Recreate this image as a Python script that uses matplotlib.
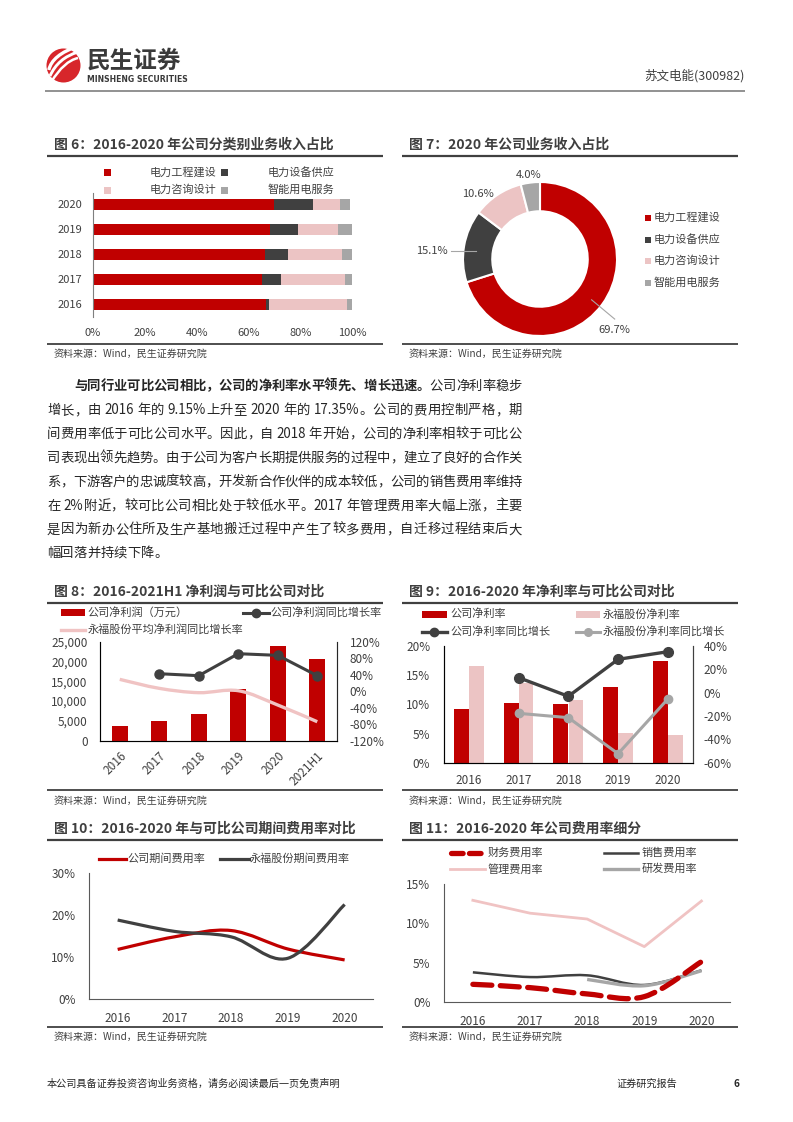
import re

import numpy as np
import matplotlib

matplotlib.use("Agg")
import matplotlib.pyplot as plt
from matplotlib.patches import Rectangle, Circle, PathPatch
from matplotlib.path import Path
from matplotlib.ticker import FuncFormatter

plt.rcParams["font.family"] = ["Noto Sans CJK SC", "DejaVu Sans"]

W, H = 793, 1122

RED = "#C00000"
DARK = "#404040"
PINK = "#ECC4C4"
GRAY = "#A6A6A6"
TXT = "#404040"

# ---- data -------------------------------------------------------------
YEARS = ["2016", "2017", "2018", "2019", "2020"]
SEG_NAMES = ["电力工程建设", "电力设备供应", "电力咨询设计", "智能用电服务"]
SEG_ENGINEERING = [66.8, 65.1, 66.4, 68.5, 69.7]
SEG_EQUIPMENT = [1.3, 7.3, 8.9, 10.7, 15.1]
SEG_CONSULTING = [30.0, 24.8, 20.8, 15.5, 10.6]
SEG_SMART = [2.0, 2.8, 3.9, 5.2, 4.0]

PIE_2020 = [69.7, 15.1, 10.6, 4.0]

PROFIT_CATS = ["2016", "2017", "2018", "2019", "2020", "2021H1"]
NET_PROFIT = [3700, 5000, 6800, 13000, 24000, 20600]
PROFIT_GROWTH = [np.nan, 42.4, 37.6, 90.9, 86.9, 37.6]
PEER_PROFIT_GROWTH = [28.7, 6.9, -3.6, 1.2, -33.5, -74.0]

MARGIN = [9.15, 10.3, 10.0, 12.95, 17.35]
PEER_MARGIN = [16.5, 13.6, 10.7, 5.1, 4.8]
MARGIN_GROWTH = [np.nan, 12.9, -3.1, 28.6, 35.1]
PEER_MARGIN_GROWTH = [np.nan, -17.7, -21.4, -52.3, -5.4]

EXPENSE = [11.8, 14.8, 16.3, 11.9, 9.3]
PEER_EXPENSE = [18.8, 16.1, 14.8, 9.7, 22.5]

FIN_RATE = [2.28, 1.86, 1.06, 0.72, 5.15]
SALES_RATE = [3.8, 3.2, 3.42, 2.2, 4.06]
ADMIN_RATE = [12.93, 11.3, 10.56, 7.06, 12.84]
RD_RATE = [np.nan, np.nan, 2.9, 2.1, 4.0]

PARAGRAPH = [
    [("与同行业可比公司相比，公司的净利率水平领先、增长迅速。", "bold"), ("公司净利率稳步", "normal")],
    [("增长，由 2016 年的 9.15%上升至 2020 年的 17.35%。公司的费用控制严格，期", "normal")],
    [("间费用率低于可比公司水平。因此，自 2018 年开始，公司的净利率相较于可比公", "normal")],
    [("司表现出领先趋势。由于公司为客户长期提供服务的过程中，建立了良好的合作关", "normal")],
    [("系，下游客户的忠诚度较高，开发新合作伙伴的成本较低，公司的销售费用率维持", "normal")],
    [("在 2%附近，较可比公司相比处于较低水平。2017 年管理费用率大幅上涨，主要", "normal")],
    [("是因为新办公住所及生产基地搬迁过程中产生了较多费用，自迁移过程结束后大", "normal")],
    [("幅回落并持续下降。", "normal")],
]

SOURCE = "资料来源：Wind，民生证券研究院"


def add_ax(fig, x0, y0, x1, y1):
    ax = fig.add_axes([x0 / W, 1 - y1 / H, (x1 - x0) / W, (y1 - y0) / H])
    ax.set_facecolor("none")
    return ax


def smooth_path(xs, ys):
    pts = [(x, y) for x, y in zip(xs, ys) if not np.isnan(y)]
    verts = [pts[0]]
    codes = [Path.MOVETO]
    n = len(pts)
    for i in range(n - 1):
        p0 = pts[max(i - 1, 0)]
        p1 = pts[i]
        p2 = pts[i + 1]
        p3 = pts[min(i + 2, n - 1)]
        c1 = (p1[0] + (p2[0] - p0[0]) / 6, p1[1] + (p2[1] - p0[1]) / 6)
        c2 = (p2[0] - (p3[0] - p1[0]) / 6, p2[1] - (p3[1] - p1[1]) / 6)
        verts += [c1, c2, p2]
        codes += [Path.CURVE4] * 3
    return Path(verts, codes)


def smooth_line(ax, xs, ys, **kw):
    ax.add_patch(PathPatch(smooth_path(xs, ys), facecolor="none", **kw))


def style_ticks(ax, size=8):
    ax.tick_params(length=0, labelsize=size, labelcolor=TXT)


fig = plt.figure(figsize=(W / 100, H / 100), dpi=100)
page = fig.add_axes([0, 0, 1, 1], zorder=-1)
page.set_xlim(0, W)
page.set_ylim(H, 0)
page.axis("off")


def hline(x0, x1, y, color=DARK, lw=1.4):
    page.plot([x0, x1], [y, y], color=color, lw=lw, solid_capstyle="butt")


def leg_rect(x0, x1, yc, h, color):
    page.add_patch(Rectangle((x0, yc - h / 2), x1 - x0, h, color=color, lw=0))


def leg_line(x0, x1, yc, color, lw, marker=False, ms=6, **kw):
    page.plot([x0, x1], [yc, yc], color=color, lw=lw, **kw)
    if marker:
        page.plot([(x0 + x1) / 2], [yc], "o", color=color, ms=ms)


def ptext(x, y, s, size=8, color=TXT, **kw):
    kw.setdefault("va", "center")
    return page.text(x, y, s, fontsize=size, color=color, **kw)


# ---- header ------------------------------------------------------------
page.add_patch(Circle((63.5, 65.5), 17, color="#D7262B", lw=0))
for k, off in enumerate([-6, 0, 6]):
    p = Path([(50 + off * 0.2, 76 + off), (58 + off, 58 + off * 0.5), (78, 52 + off)],
             [Path.MOVETO, Path.CURVE3, Path.CURVE3])
    page.add_patch(PathPatch(p, facecolor="none", edgecolor="white", lw=2.4 - k * 0.3))
ptext(87, 61, "民生证券", size=17, color="#3A3A3A", weight="bold")
ptext(87, 79, "MINSHENG SECURITIES", size=5.6, color="#3A3A3A", weight="bold", family="DejaVu Sans")
ptext(745, 76, "苏文电能(300982)", size=9, ha="right")
hline(45, 745, 91, color="#7F7F7F", lw=1.2)

# ---- section frames --------------------------------------------------
frames = [
    (47, 383, 145, 156, 344, 354, "图 6：2016-2020 年公司分类别业务收入占比"),
    (402, 738, 145, 156, 344, 354, "图 7：2020 年公司业务收入占比"),
    (47, 383, 592, 603, 790, 801, "图 8：2016-2021H1 净利润与可比公司对比"),
    (402, 738, 592, 603, 790, 801, "图 9：2016-2020 年净利率与可比公司对比"),
    (47, 383, 829, 840, 1027, 1037, "图 10：2016-2020 年与可比公司期间费用率对比"),
    (402, 738, 829, 840, 1027, 1037, "图 11：2016-2020 年公司费用率细分"),
]
for x0, x1, ty, ly, by, sy, title in frames:
    ptext(x0 + 7, ty, title, size=10, color="#3F3F3F", weight="bold")
    hline(x0, x1, ly, lw=1.6)
    hline(x0, x1, by, lw=1.3)
    ptext(x0 + 7, sy, SOURCE, size=7.2)

# ---- paragraph (justified) ------------------------------------------
renderer = fig.canvas.get_renderer()
para_y = [385.7, 410, 433.5, 457.5, 481.5, 505.5, 529.3, 552.7]
PARA_SIZE = 9.6
for li, (segments, y) in enumerate(zip(PARAGRAPH, para_y)):
    x_start = 74 if li == 0 else 47
    x_end = 522
    texts = []
    for s, weight in segments:
        for tok in re.findall(r"[A-Za-z0-9.%]+|\s+|.", s):
            if tok.isspace():
                texts.append((None, 3.0))
                continue
            t = page.text(0, y, tok, fontsize=PARA_SIZE, color="#262626", weight=weight,
                          va="center", ha="left")
            w = t.get_window_extent(renderer=renderer).width
            texts.append((t, w))
    total = sum(w for _, w in texts)
    last = li == len(PARAGRAPH) - 1
    gap = 0 if last else (x_end - x_start - total) / max(len(texts) - 1, 1)
    x = x_start
    for t, w in texts:
        if t is not None:
            t.set_x(x)
        x += w + gap

# ---- figure 6: stacked horizontal bars ------------------------------
ax6 = add_ax(fig, 93, 193, 352, 317)
ypos = np.arange(len(YEARS))
left = np.zeros(len(YEARS))
for vals, color in zip([SEG_ENGINEERING, SEG_EQUIPMENT, SEG_CONSULTING, SEG_SMART],
                       [RED, DARK, PINK, GRAY]):
    ax6.barh(ypos, vals, left=left, height=0.44, color=color, lw=0)
    left += np.array(vals)
ax6.set_xlim(0, 100)
ax6.set_ylim(-0.5, 4.45)
ax6.set_yticks(ypos)
ax6.set_yticklabels(YEARS)
ax6.set_xticks(range(0, 101, 20))
ax6.set_xticklabels([f"{v}%" for v in range(0, 101, 20)])
for side in ["top", "right", "bottom"]:
    ax6.spines[side].set_visible(False)
ax6.spines["left"].set_color("#7F7F7F")
style_ticks(ax6, 8)
ax6.tick_params(axis="x", pad=8)
ax6.tick_params(axis="y", pad=8)

leg6 = [(107, 150, 172.5), (224, 268, 172.5), (107, 150, 190), (224, 268, 190)]
for (mx, tx, yy), name, color in zip(leg6, SEG_NAMES, [RED, DARK, PINK, GRAY]):
    leg_rect(mx - 3.5, mx + 3.5, yy, 7, color)
    ptext(tx, yy, name, size=8)

# ---- figure 7: donut ---------------------------------------------------
ax7 = add_ax(fig, 463, 182, 617, 336)
ax7.pie(PIE_2020, colors=[RED, DARK, PINK, GRAY], startangle=90, counterclock=False,
        radius=1, wedgeprops=dict(width=0.38, edgecolor="white", linewidth=1.5))
ax7.set_xlim(-1, 1)
ax7.set_ylim(-1, 1)
pie_labels = [f"{v:.1f}%" for v in PIE_2020]
label_pos = [(0.97, -0.92), (-1.41, 0.11), (-0.80, 0.84), (-0.15, 1.09)]
for s, (lx, ly) in zip(pie_labels, label_pos):
    ax7.text(lx, ly, s, ha="center", va="center", fontsize=8, color=TXT, clip_on=False)
ax7.plot([0.67, 0.97], [-0.53, -0.78], color="#A6A6A6", lw=0.8, clip_on=False)
ax7.plot([-1.15, -0.83], [0.11, 0.11], color="#A6A6A6", lw=0.8, clip_on=False)
for name, color, yy in zip(SEG_NAMES, [RED, DARK, PINK, GRAY], [217.5, 239.5, 261, 283]):
    leg_rect(645, 651, yy, 6, color)
    ptext(654, yy, name, size=8)

# ---- figure 8: net profit ---------------------------------------------
ax8 = add_ax(fig, 100, 641.7, 337, 740.7)
x8 = np.arange(len(PROFIT_CATS))
ax8.bar(x8, NET_PROFIT, width=0.41, color=RED, lw=0)
ax8.set_xlim(-0.5, len(PROFIT_CATS) - 0.5)
ax8.set_ylim(0, 25000)
ax8.set_yticks(range(0, 25001, 5000))
ax8.yaxis.set_major_formatter(FuncFormatter(lambda v, _p: f"{v:,.0f}"))
ax8.set_xticks(x8)
ax8.set_xticklabels(PROFIT_CATS, rotation=45, ha="right", rotation_mode="anchor")
style_ticks(ax8, 8.5)
ax8.tick_params(axis="y", pad=9)
ax8.tick_params(axis="x", pad=6)
ax8.spines["top"].set_visible(False)
for side in ["left", "right", "bottom"]:
    ax8.spines[side].set_color("#7F7F7F")
ax8r = ax8.twinx()
ax8r.set_ylim(-120, 120)
ax8r.set_yticks(range(-120, 121, 40))
ax8r.set_yticklabels([f"{v}%" for v in range(-120, 121, 40)])
style_ticks(ax8r, 8.5)
ax8r.tick_params(axis="y", pad=9)
ax8r.spines["top"].set_visible(False)
ax8r.spines["right"].set_color("#262626")
smooth_line(ax8r, x8, PEER_PROFIT_GROWTH, edgecolor="#F0C3C3", lw=2.4)
ax8r.plot(x8, PROFIT_GROWTH, color=DARK, lw=2.2, marker="o", ms=6.5)

leg_rect(60.5, 85, 612.5, 7, RED)
ptext(87.5, 612.5, "公司净利润（万元）", size=8)
leg_line(242.5, 268.5, 612.5, DARK, 2.2, marker=True)
ptext(270, 612.5, "公司净利润同比增长率", size=8)
leg_line(60.5, 85, 629.5, "#F0C3C3", 2.4)
ptext(87.5, 629.5, "永福股份平均净利润同比增长率", size=8)

# ---- figure 9: net margin ---------------------------------------------
ax9 = add_ax(fig, 444, 646, 692.7, 762.7)
x9 = np.arange(len(YEARS))
ax9.bar(x9 - 0.15, MARGIN, width=0.3, color=RED, lw=0)
ax9.bar(x9 + 0.15, PEER_MARGIN, width=0.29, color=PINK, lw=0)
ax9.set_xlim(-0.5, len(YEARS) - 0.5)
ax9.set_ylim(0, 20)
ax9.set_yticks(range(0, 21, 5))
ax9.set_yticklabels([f"{v}%" for v in range(0, 21, 5)])
ax9.set_xticks(x9)
ax9.set_xticklabels(YEARS)
style_ticks(ax9, 8.5)
ax9.tick_params(axis="y", pad=10)
ax9.tick_params(axis="x", pad=8)
ax9.spines["top"].set_visible(False)
for side in ["left", "right", "bottom"]:
    ax9.spines[side].set_color("#404040")
ax9r = ax9.twinx()
ax9r.set_ylim(-60, 40)
ax9r.set_yticks(range(-60, 41, 20))
ax9r.set_yticklabels([f"{v}%" for v in range(-60, 41, 20)])
style_ticks(ax9r, 8.5)
ax9r.tick_params(axis="y", pad=8)
ax9r.spines["top"].set_visible(False)
ax9r.spines["right"].set_color("#404040")
ax9r.plot(x9, MARGIN_GROWTH, color=DARK, lw=2.4, marker="o", ms=7)
ax9r.plot(x9, PEER_MARGIN_GROWTH, color=GRAY, lw=2.2, marker="o", ms=6)

leg_rect(421.5, 447, 614, 7, RED)
ptext(450, 614, "公司净利率", size=8)
leg_rect(575.5, 600, 614, 7, PINK)
ptext(603, 614, "永福股份净利率", size=8)
leg_line(421.5, 447, 631.5, DARK, 2.4, marker=True)
ptext(450, 631.5, "公司净利率同比增长", size=8)
leg_line(575.5, 600, 631.5, GRAY, 2.2, marker=True, ms=5.5)
ptext(603, 631.5, "永福股份净利率同比增长", size=8)

# ---- figure 10: period expense ratio ----------------------------------
ax10 = add_ax(fig, 89.3, 873, 373, 999)
ax10.set_xlim(-0.5, len(YEARS) - 0.5)
ax10.set_ylim(0, 30)
smooth_line(ax10, x9, EXPENSE, edgecolor=RED, lw=2.3)
smooth_line(ax10, x9, PEER_EXPENSE, edgecolor=DARK, lw=2.3)
ax10.set_yticks(range(0, 31, 10))
ax10.set_yticklabels([f"{v}%" for v in range(0, 31, 10)])
ax10.set_xticks(x9)
ax10.set_xticklabels(YEARS)
style_ticks(ax10, 8.5)
ax10.tick_params(axis="y", pad=10)
ax10.tick_params(axis="x", pad=9)
for side in ["top", "right"]:
    ax10.spines[side].set_visible(False)
for side in ["left", "bottom"]:
    ax10.spines[side].set_color("#595959")

leg_line(98.5, 126, 858.5, RED, 2.3)
ptext(127.5, 858.5, "公司期间费用率", size=8)
leg_line(220, 248.5, 858.5, DARK, 2.3)
ptext(249.5, 858.5, "永福股份期间费用率", size=8)

# ---- figure 11: expense breakdown -------------------------------------
ax11 = add_ax(fig, 444.3, 884, 730, 1002.3)
ax11.set_xlim(-0.5, len(YEARS) - 0.5)
ax11.set_ylim(0, 15)
ax11.plot(x9, ADMIN_RATE, color="#F0C3C3", lw=2.0)
smooth_line(ax11, x9, SALES_RATE, edgecolor=DARK, lw=1.8)
smooth_line(ax11, x9, RD_RATE, edgecolor=GRAY, lw=2.4)
smooth_line(ax11, x9, FIN_RATE, edgecolor=RED, lw=3.8, linestyle=(0, (3.6, 1.6)),
            capstyle="round")
ax11.set_yticks(range(0, 16, 5))
ax11.set_yticklabels([f"{v}%" for v in range(0, 16, 5)])
ax11.set_xticks(x9)
ax11.set_xticklabels(YEARS)
style_ticks(ax11, 8.5)
ax11.tick_params(axis="y", pad=10)
ax11.tick_params(axis="x", pad=9)
for side in ["top", "right"]:
    ax11.spines[side].set_visible(False)
for side in ["left", "bottom"]:
    ax11.spines[side].set_color("#595959")

leg_line(451, 484, 852.5, RED, 3.8, linestyle=(0, (2.2, 1.2)), solid_capstyle="round",
         dash_capstyle="round")
ptext(487.5, 852.5, "财务费用率", size=8)
leg_line(603.5, 638, 852.5, DARK, 1.8)
ptext(641.5, 852.5, "销售费用率", size=8)
leg_line(450, 485, 869, "#F0C3C3", 2.0)
ptext(487.5, 869, "管理费用率", size=8)
leg_line(603.5, 638, 869, GRAY, 2.4)
ptext(641.5, 869, "研发费用率", size=8)

# ---- footer --------------------------------------------------------
ptext(47, 1084, "本公司具备证券投资咨询业务资格，请务必阅读最后一页免责声明", size=7.3, color="#262626")
ptext(617, 1084, "证券研究报告", size=7.3, color="#262626")
ptext(733, 1084, "6", size=7.3, color="#262626", weight="bold")

fig.savefig("out.png", dpi=100)
